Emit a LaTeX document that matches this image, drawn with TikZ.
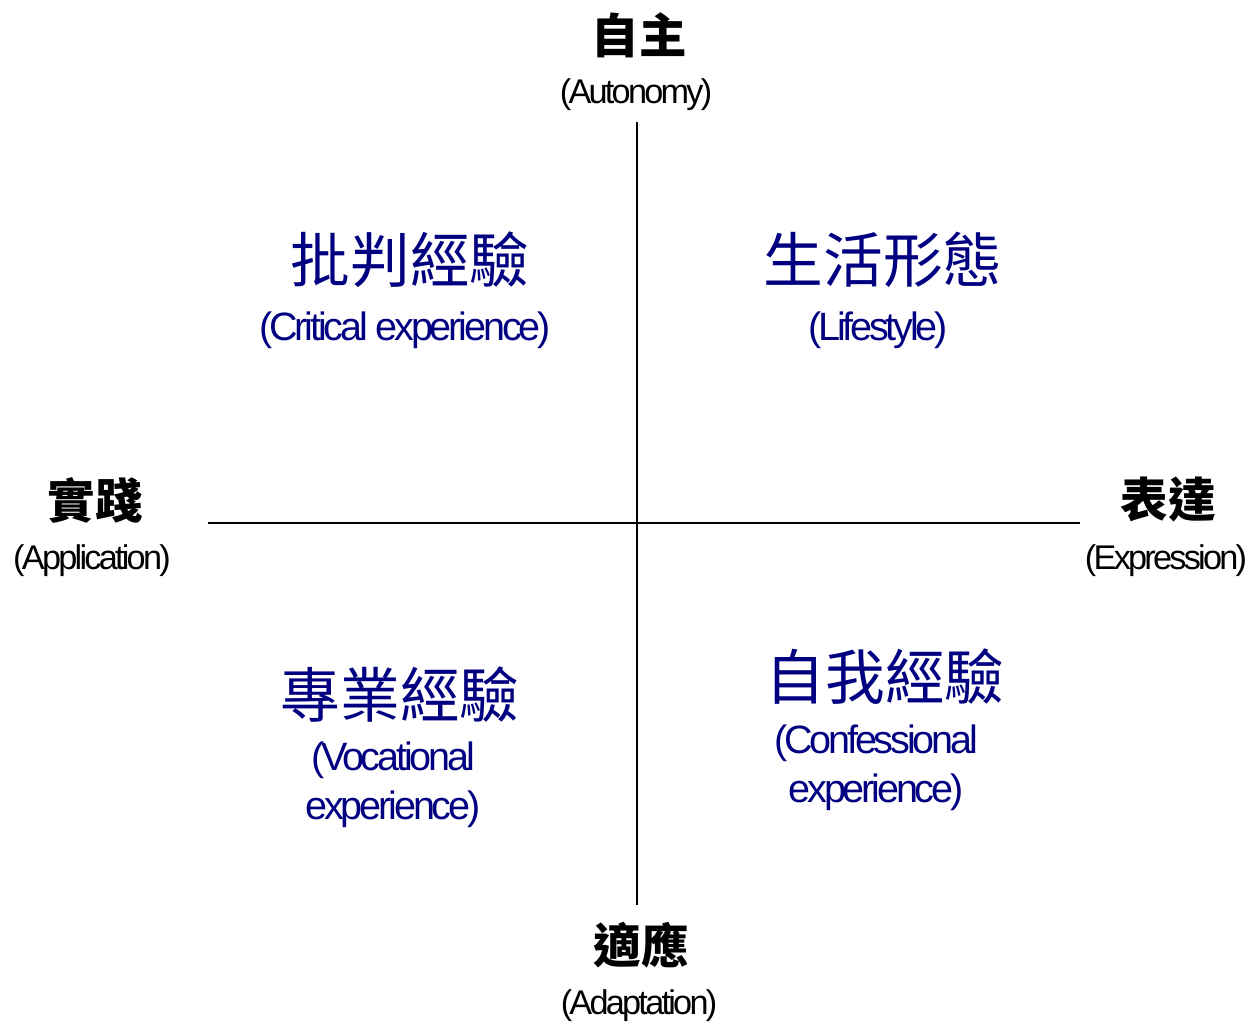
\documentclass[tikz,border=0pt]{standalone}
\usepackage{fontspec}
\setmainfont[LetterSpace=-8]{Liberation Sans}
\newfontfamily\cjk{Noto Sans CJK TC}
\definecolor{navy}{RGB}{0,0,128}

\tikzset{
  axiscjk/.style={anchor=center,inner sep=0pt,font=\cjk\bfseries\fontsize{27}{27}\selectfont},
  axisen/.style={anchor=center,inner sep=0pt,font=\fontsize{19.5}{19.5}\selectfont},
  quadcjk/.style={anchor=center,inner sep=0pt,text=navy,font=\cjk\fontsize{34}{34}\selectfont},
  quaden/.style={anchor=center,inner sep=0pt,text=navy,align=center,font=\fontsize{22.5}{28}\selectfont}
}

\begin{document}
\begin{tikzpicture}[x=0.02cm,y=-0.02cm]
  \useasboundingbox (0,0) rectangle (1247,1022);

  \coordinate (top) at (637,122);
  \coordinate (bottom) at (637,905);
  \coordinate (left) at (208,523);
  \coordinate (right) at (1080,523);

  \draw [line width=1.1pt] (top) -- (bottom);
  \draw [line width=1.1pt] (left) -- (right);

  % axis labels
  \node [axiscjk] (autozh) at (639,35) {自主};
  \node [axisen] (autoen) at (636,95) {(Autonomy)};
  \node [axiscjk] (applzh) at (95,500) {實踐};
  \node [axisen] (applen) at (92,561) {(Application)};
  \node [axiscjk] (exprzh) at (1168,500) {表達};
  \node [axisen] (expren) at (1166,561) {(Expression)};
  \node [axiscjk] (adapzh) at (641,945) {適應};
  \node [axisen] (adapen) at (639,1006) {(Adaptation)};

  % quadrants
  \node [quadcjk] (critzh) at (410,260) {批判經驗};
  \node [quaden] (criten) at (405,330) {(Critical experience)};
  \node [quadcjk] (lifezh) at (883,260) {生活形態};
  \node [quaden] (lifeen) at (878,330) {(Lifestyle)};
  \node [quadcjk] (voczh) at (400,695) {專業經驗};
  \node [quaden] (vocen) at (393,785) {(Vocational\\experience)};
  \node [quadcjk] (confzh) at (885,677) {自我經驗};
  \node [quaden] (confen) at (876,768) {(Confessional\\experience)};
\end{tikzpicture}
\end{document}
